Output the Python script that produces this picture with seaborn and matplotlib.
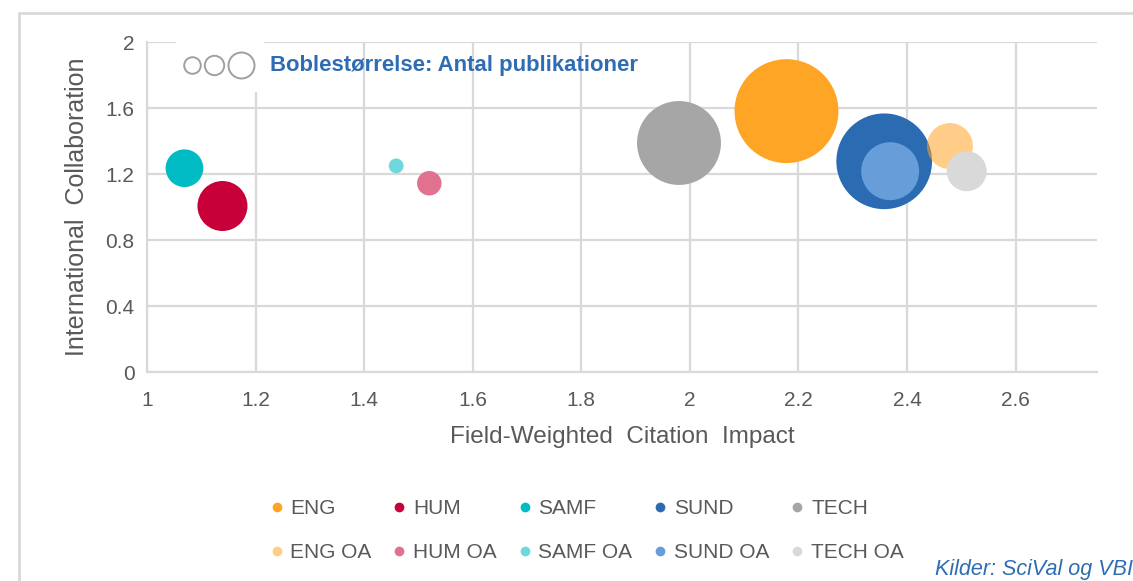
import matplotlib
matplotlib.use('Agg')
import matplotlib.pyplot as plt
from matplotlib.lines import Line2D
from matplotlib.patches import Rectangle
import pandas as pd
import seaborn as sns

# data
fakultet = ['ENG', 'HUM', 'SAMF', 'SUND', 'TECH',
            'ENG OA', 'HUM OA', 'SAMF OA', 'SUND OA', 'TECH OA']
fwci = [2.178, 1.139, 1.069, 2.358, 1.980,
        2.479, 1.520, 1.459, 2.369, 2.510]
intl_collab = [1.581, 1.006, 1.235, 1.277, 1.388,
               1.369, 1.144, 1.249, 1.217, 1.217]
antal_pub = [2700, 625, 355, 2290, 1760,
             530, 150, 55, 840, 400]

farver = {
    'ENG': '#FFA526', 'HUM': '#C8003A', 'SAMF': '#00BAC4',
    'SUND': '#2A6BB2', 'TECH': '#A6A6A6',
    'ENG OA': (1.0, 0.647, 0.149, 0.55), 'HUM OA': '#E0718F',
    'SAMF OA': '#6ED8DD', 'SUND OA': '#679DD9', 'TECH OA': '#D9D9D9',
}

x_ticks = [1, 1.2, 1.4, 1.6, 1.8, 2, 2.2, 2.4, 2.6]
y_ticks = [0, 0.4, 0.8, 1.2, 1.6, 2]

df = pd.DataFrame({'fakultet': fakultet, 'fwci': fwci,
                   'collab': intl_collab, 'antal': antal_pub})

sns.set_style('white')
plt.rcParams['font.family'] = ['Liberation Sans', 'DejaVu Sans']
tekst = '#595959'
grid = '#D9D9D9'
blaa = '#2E6DB4'

fig = plt.figure(figsize=(11.33, 5.81), dpi=100)
ax = fig.add_axes([147 / 1133, 1 - 372 / 581, 950 / 1133, 330 / 581])

k = 2.0736  # points^2 per publication
sns.scatterplot(data=df, x='fwci', y='collab', hue='fakultet', palette=farver,
                size='antal', sizes=(min(antal_pub) * k, max(antal_pub) * k),
                size_norm=(min(antal_pub), max(antal_pub)),
                linewidth=0, legend=False, ax=ax, zorder=3)

ax.set_xlim(1, 2.75)
ax.set_ylim(0, 2)
ax.set_xticks(x_ticks)
ax.set_xticklabels([f'{v:g}' for v in x_ticks])
ax.set_yticks(y_ticks)
ax.set_yticklabels([f'{v:g}' for v in y_ticks])
ax.tick_params(axis='both', length=0, labelsize=15, labelcolor=tekst)
ax.tick_params(axis='x', pad=14)
ax.tick_params(axis='y', pad=9)
ax.grid(True, color=grid, linewidth=1.6)
ax.set_axisbelow(True)
for side in ['top', 'right']:
    ax.spines[side].set_visible(False)
for side in ['left', 'bottom']:
    ax.spines[side].set_color(grid)
    ax.spines[side].set_linewidth(1.6)

ax.set_xlabel('Field-Weighted  Citation  Impact', fontsize=17.5, color=tekst,
              labelpad=11)
ax.set_ylabel('International  Collaboration', fontsize=18, color=tekst,
              labelpad=12)

# bubble size key in the upper left corner
ax.add_patch(Rectangle((0.031, 0.85), 0.092, 0.16, transform=ax.transAxes,
                       facecolor='white', edgecolor='none', zorder=1.5,
                       clip_on=False))
for cx, r in [(192.3, 8.3), (214, 9.7), (241, 13)]:
    ax.plot((cx - 147) / 950, (372 - 64.7) / 330, marker='o',
            markersize=2 * r * 0.72, markerfacecolor='none',
            markeredgecolor='#A0A0A0', markeredgewidth=1.4,
            transform=ax.transAxes, clip_on=False, zorder=4)
ax.text((270 - 147) / 950, (372 - 65) / 330,
        'Boblestørrelse: Antal publikationer', transform=ax.transAxes,
        fontsize=15.9, fontweight='bold', color=blaa, va='center', ha='left')

# legend below
handles = []
labels = []
for base in ['ENG', 'HUM', 'SAMF', 'SUND', 'TECH']:
    for navn in [base, base + ' OA']:
        handles.append(Line2D([], [], linestyle='none', marker='o',
                              markersize=7, markerfacecolor=farver[navn],
                              markeredgewidth=0))
        labels.append(navn)
fig.legend(handles, labels, ncol=5, loc='center', frameon=False,
           bbox_to_anchor=(586 / 1133, 1 - 531 / 581), fontsize=15,
           labelcolor=tekst, handletextpad=0.25, columnspacing=0.95,
           handlelength=0.8, labelspacing=1.2)

fig.text(1.0, 1 - 569 / 581, 'Kilder: SciVal og VBI', fontsize=15.5,
         style='italic', color=blaa, ha='right', va='center')

# outer frame lines
fig.add_artist(Line2D([19 / 1133, 1], [1 - 13 / 581, 1 - 13 / 581],
                      color=grid, linewidth=2, transform=fig.transFigure))
fig.add_artist(Line2D([19 / 1133, 19 / 1133], [0, 1 - 13 / 581],
                      color=grid, linewidth=2, transform=fig.transFigure))

fig.savefig('out.png', dpi=100)
